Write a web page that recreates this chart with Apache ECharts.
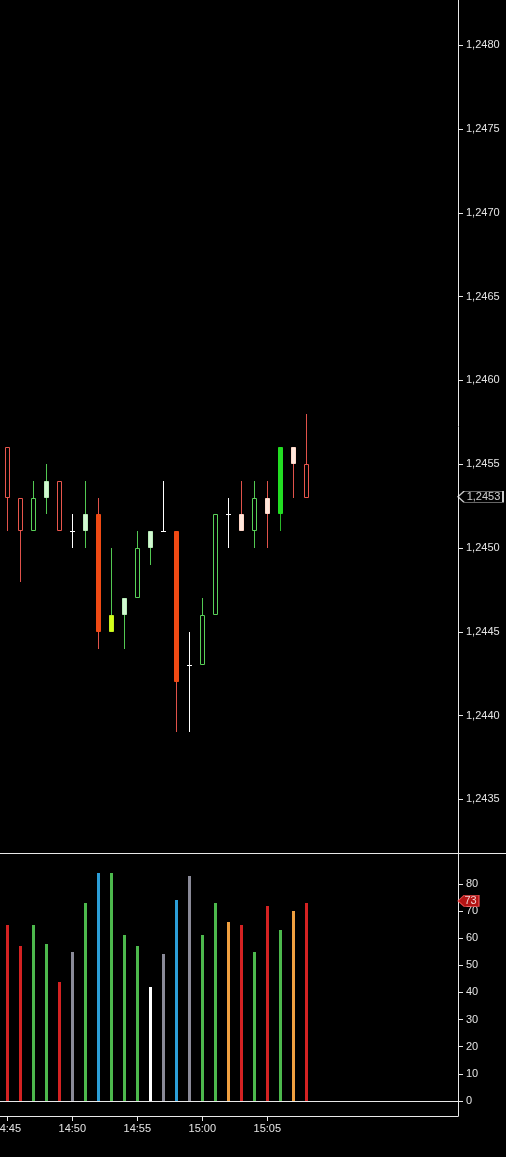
<!DOCTYPE html>
<html><head><meta charset="utf-8">
<script src="https://cdn.jsdelivr.net/npm/echarts@6/dist/echarts.min.js"></script>
<style>html,body{margin:0;padding:0;background:#000;}#c{width:506px;height:1157px;}</style>
</head><body><div id="c"></div>
<script>
// ---------- data ----------
const times = ['14:45','14:46','14:47','14:48','14:49','14:50','14:51','14:52','14:53','14:54','14:55','14:56',
               '14:57','14:58','14:59','15:00','15:01','15:02','15:03','15:04','15:05','15:06','15:07','15:08'];
const openP  = [1.2456,1.2453,1.2451,1.2453,1.2454,1.2451,1.2451,1.2452,1.2445,1.2446,1.2447,1.2450,
                1.2451,1.2451,1.2443,1.2443,1.2446,1.2452,1.2451,1.2451,1.2452,1.2452,1.2455,1.2455];
const closeP = [1.2453,1.2451,1.2453,1.2454,1.2451,1.2451,1.2452,1.2445,1.2446,1.2447,1.2450,1.2451,
                1.2451,1.2442,1.2443,1.2446,1.2452,1.2452,1.2452,1.2453,1.2453,1.2456,1.2456,1.2453];
const lowP   = [1.2451,1.2448,1.2451,1.2452,1.2451,1.2450,1.2450,1.2444,1.2445,1.2444,1.2447,1.2449,
                1.2451,1.2439,1.2439,1.2443,1.2446,1.2450,1.2451,1.2450,1.2450,1.2451,1.2453,1.2453];
const highP  = [1.2456,1.2453,1.2454,1.2455,1.2454,1.2452,1.2454,1.2453,1.2450,1.2447,1.2451,1.2451,
                1.2454,1.2451,1.2445,1.2447,1.2452,1.2453,1.2454,1.2454,1.2454,1.2456,1.2456,1.2458];
const candleKind = ['bearHollow','bearHollow','bullHollow','bullPale','bearHollow','doji','bullPale','bearStrong',
                    'bullLime','bullPale','bullHollow','bullPale','doji','bearStrong','doji','bullHollow',
                    'bullHollow','doji','bearPale','bullHollow','bearPale','bullStrong','bearPale','bearHollow'];
const volume = [65,57,65,58,44,55,73,84,84,61,57,42,54,74,83,61,73,66,65,55,72,63,70,73];
const volumeKind = ['sell','sell','buy','buy','sell','neutral','buy','climax','buy','buy','buy','low',
                    'neutral','climax','neutral','buy','buy','churn','sell','buy','sell','buy','churn','sell'];
const priceTicks = [1.2435,1.2440,1.2445,1.2450,1.2455,1.2460,1.2465,1.2470,1.2475,1.2480];
const volumeTicks = [0,10,20,30,40,50,60,70,80];
const timeTicks = ['14:45','14:50','14:55','15:00','15:05'];

// ---------- styles ----------
const candleStyles = {
  bearHollow: {wick:'#e0524a', border:'#e8564c', fill:'#000'},
  bullHollow: {wick:'#52c852', border:'#58d058', fill:'#000'},
  bullPale:   {wick:'#52c852', border:'#b8ecb8', fill:'#d2f8d2'},
  bullLime:   {wick:'#52c852', border:'#c4f020', fill:'#d4ff1a'},
  bullStrong: {wick:'#2ab82a', border:'#22dd22', fill:'#22dd22'},
  bearStrong: {wick:'#e0524a', border:'#f04a14', fill:'#f04a14'},
  bearPale:   {wick:'#e0524a', border:'#ffd6c8', fill:'#ffe8dc'},
  doji:       {wick:'#ffffff', border:'#ffffff', fill:'#ffffff'}
};
const volumeColors = {sell:'#d42222', buy:'#4cb84c', climax:'#2c9ed8', neutral:'#8a8a98', low:'#ffffff', churn:'#f0a040'};
const FONT = 'Liberation Sans, Arial, sans-serif';
const TXT = '#e4e4e4', LINE = '#e8e8e8';

// ---------- helpers ----------
function toMin(s){const p=s.split(':').map(Number);return p[0]*60+p[1];}
function fmtMin(v){const h=Math.floor(v/60+1e-9), m=Math.round(v-h*60);return h+':'+String(m).padStart(2,'0');}
function fmtPrice(v){return v.toFixed(4).replace('.',',');}

const t0 = toMin(times[0]);
const xMin = t0 - 0.56, xMax = t0 + 34.67;
const plotW = 458, priceH = 853, volH = 248, timeH = 15;

const candleData = times.map((t,i)=>[toMin(t), openP[i], closeP[i], lowP[i], highP[i]]);
const volData = times.map((t,i)=>[toMin(t), volume[i]]);
const lastClose = closeP[closeP.length-1];
const lastVol = volume[volume.length-1];

function renderCandle(params, api){
  const i = params.dataIndex;
  const k = candleStyles[candleKind[i]];
  const x = api.value(0);
  const pO = api.coord([x, api.value(1)]);
  const pC = api.coord([x, api.value(2)]);
  const pL = api.coord([x, api.value(3)]);
  const pH = api.coord([x, api.value(4)]);
  const cx = Math.round(pO[0]) + 0.5;
  const yTop = Math.round(Math.min(pO[1], pC[1]));
  const yBot = Math.round(Math.max(pO[1], pC[1]));
  const ch = [];
  ch.push({type:'line', shape:{x1:cx, y1:Math.round(pH[1]), x2:cx, y2:Math.round(pL[1])},
           style:{stroke:k.wick, lineWidth:1}});
  if (yBot - yTop < 1) {
    ch.push({type:'line', shape:{x1:cx-2.5, y1:yTop+0.5, x2:cx+2.5, y2:yTop+0.5}, style:{stroke:k.wick, lineWidth:1}});
  } else {
    ch.push({type:'rect', shape:{x:cx-2, y:yTop+0.5, width:4, height:yBot-yTop-1},
             style:{fill:k.fill, stroke:k.border, lineWidth:1}});
  }
  return {type:'group', children:ch};
}
function renderVol(params, api){
  const i = params.dataIndex;
  const p0 = api.coord([api.value(0), 0]);
  const p1 = api.coord([api.value(0), api.value(1)]);
  const px = Math.round(p0[0]);
  return {type:'rect', shape:{x:px-1, y:Math.round(p1[1]), width:3, height:Math.round(p0[1])-Math.round(p1[1])},
          style:{fill:volumeColors[volumeKind[i]]}};
}

const axisLbl = {color:TXT, fontSize:11, fontFamily:FONT};
const chart = echarts.init(document.getElementById('c'), null, {renderer:'canvas'});
chart.setOption({
  backgroundColor:'#000',
  animation:false,
  grid:[
    {left:0, top:0, width:plotW, height:priceH, containLabel:false, outerBoundsMode:'none'},
    {left:0, top:priceH, width:plotW, height:volH, containLabel:false, outerBoundsMode:'none'},
    {left:0, top:priceH+volH, width:plotW, height:timeH, containLabel:false, outerBoundsMode:'none'}
  ],
  xAxis:[
    {gridIndex:0, type:'value', min:xMin, max:xMax, show:false},
    {gridIndex:1, type:'value', min:xMin, max:xMax, axisLine:{show:true, onZero:false, lineStyle:{color:LINE}},
      axisTick:{show:false}, axisLabel:{show:false}, splitLine:{show:false}},
    {gridIndex:2, type:'value', min:xMin, max:xMax, position:'bottom',
      axisLine:{show:true, onZero:false, lineStyle:{color:LINE}},
      axisTick:{show:true, length:5, lineStyle:{color:LINE}, customValues:timeTicks.map(toMin)},
      axisLabel:Object.assign({margin:7, formatter:fmtMin, customValues:timeTicks.map(toMin)}, axisLbl),
      splitLine:{show:false}}
  ],
  yAxis:[
    {gridIndex:0, type:'value', position:'right', min:1.24318, max:1.24827,
      axisLine:{show:true, lineStyle:{color:LINE}},
      axisTick:{show:true, length:5, lineStyle:{color:LINE}, customValues:priceTicks},
      axisLabel:Object.assign({margin:8, formatter:fmtPrice, customValues:priceTicks}, axisLbl),
      splitLine:{show:false}},
    {gridIndex:1, type:'value', position:'right', min:0, max:91.4,
      axisLine:{show:true, lineStyle:{color:LINE}},
      axisTick:{show:true, length:5, lineStyle:{color:LINE}, customValues:volumeTicks},
      axisLabel:Object.assign({margin:8, customValues:volumeTicks}, axisLbl),
      splitLine:{show:false}},
    {gridIndex:2, type:'value', position:'right', min:0, max:1,
      axisLine:{show:true, lineStyle:{color:LINE}}, axisTick:{show:false}, axisLabel:{show:false}, splitLine:{show:false}}
  ],
  graphic:[
    {type:'line', z:10, shape:{x1:0, y1:priceH+0.5, x2:506, y2:priceH+0.5}, style:{stroke:LINE, lineWidth:1}}
  ],
  series:[
    {type:'custom', xAxisIndex:0, yAxisIndex:0, clip:true, renderItem:renderCandle,
      encode:{x:0, y:[1,2,3,4]}, data:candleData},
    {type:'custom', xAxisIndex:1, yAxisIndex:1, clip:true, renderItem:renderVol,
      encode:{x:0, y:1}, data:volData},
    {type:'scatter', xAxisIndex:0, yAxisIndex:0, clip:false, silent:true, z:20,
      data:[[xMax, lastClose]],
      symbol:'path://M0,6 L6,0 L45,0 L45,12 L6,12 Z', symbolSize:[45,11], symbolOffset:[22.5,-1],
      itemStyle:{color:'#000', borderColor:'#ffffff', borderWidth:1},
      label:{show:true, position:'inside', offset:[3,0], formatter:()=>fmtPrice(lastClose), color:'#fff', fontSize:11, fontFamily:FONT}},
    {type:'scatter', xAxisIndex:1, yAxisIndex:1, clip:false, silent:true, z:20,
      data:[[xMax, lastVol]],
      symbol:'path://M0,6 L6,0 L21,0 L21,12 L6,12 Z', symbolSize:[21,11], symbolOffset:[10.5,-2],
      itemStyle:{color:'#e01818', borderColor:'#ff5a5a', borderWidth:1},
      label:{show:true, position:'inside', offset:[2,0], formatter:()=>String(lastVol), color:'#fff', fontSize:11, fontFamily:FONT}},
    {type:'line', xAxisIndex:2, yAxisIndex:2, data:[]}
  ]
});
</script>
</body></html>
